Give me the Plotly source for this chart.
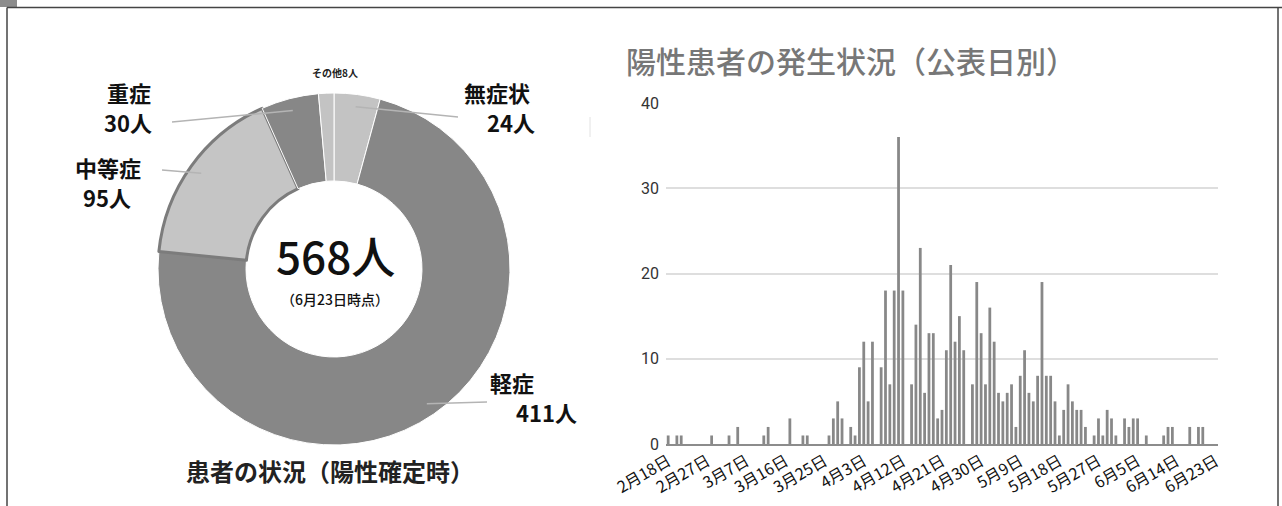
import math
import pandas as pd
import plotly.graph_objects as go

W, H = 1282, 506

# ---- donut: patient status at time of positive test ----
status_labels = ["無症状", "軽症", "中等症", "重症", "その他"]
status_counts = [24, 411, 95, 30, 8]
status_colors = ["#c3c3c3", "#878787", "#c5c5c5", "#878787", "#c3c3c3"]
total_label = "568人"
total_note = "（6月23日時点）"
donut_title = "患者の状況（陽性確定時）"

# ---- bars: new positive cases by announcement date ----
date_labels = [f"{d.month}月{d.day}日" for d in pd.date_range("2020-02-18", "2020-06-23")]
daily_cases = [
    1, 0, 1, 1, 0, 0, 0, 0, 0, 0,      # 2/18 - 2/27
    1, 0, 0, 0, 1, 0, 2, 0, 0, 0,      # 2/28 - 3/8
    0, 0, 1, 2, 0, 0, 0, 0, 3, 0,      # 3/9 - 3/18
    0, 1, 1, 0, 0, 0, 0, 1, 3, 5,      # 3/19 - 3/28
    3, 0, 2, 1, 9, 12, 5, 12, 0, 9,    # 3/29 - 4/7
    18, 7, 18, 36, 18, 0, 7, 14, 23, 6,  # 4/8 - 4/17
    13, 13, 3, 4, 11, 21, 12, 15, 11, 0,  # 4/18 - 4/27
    7, 19, 13, 7, 16, 12, 6, 5, 6, 7,  # 4/28 - 5/7
    2, 8, 11, 6, 5, 8, 19, 8, 8, 5,    # 5/8 - 5/17
    1, 4, 7, 5, 4, 4, 2, 0, 1, 3,      # 5/18 - 5/27
    1, 4, 3, 1, 0, 3, 2, 3, 3, 0,      # 5/28 - 6/6
    1, 0, 0, 0, 1, 2, 2, 0, 0, 0,      # 6/7 - 6/16
    2, 0, 2, 2, 0, 0, 0,               # 6/17 - 6/23
]
tick_labels = ["2月18日", "2月27日", "3月7日", "3月16日", "3月25日", "4月3日",
               "4月12日", "4月21日", "4月30日", "5月9日", "5月18日", "5月27日",
               "6月5日", "6月14日", "6月23日"]
y_ticks = [0, 10, 20, 30, 40]
bar_title = "陽性患者の発生状況（公表日別）"

JP = "Noto Sans CJK JP"


def px(x):
    return x / W


def py(y):
    return 1 - y / H


def text(t, x, y, size, color="#111", weight=None, xanchor="center"):
    f = dict(family=JP, size=size, color=color)
    if weight:
        f["weight"] = weight
    return dict(text=t, x=px(x), y=py(y), xref="paper", yref="paper",
                xanchor=xanchor, yanchor="middle", showarrow=False, font=f)


# donut geometry (pixels)
cx, cy, R = 334, 269, 176

fig = go.Figure()

fig.add_trace(go.Pie(
    labels=status_labels,
    values=status_counts,
    hole=0.5,
    sort=False,
    direction="clockwise",
    rotation=0,
    textinfo="none",
    hoverinfo="label+value",
    marker=dict(colors=status_colors,
                line=dict(color=["#ffffff", "#ffffff", "#7c7c7c", "#ffffff", "#ffffff"],
                          width=[1, 1, 3, 1, 1])),
    domain=dict(x=[px(cx - R), px(cx + R)], y=[py(cy + R), py(cy - R)]),
    showlegend=False,
))

fig.add_trace(go.Bar(
    x=date_labels,
    y=daily_cases,
    marker=dict(color="#888888", line=dict(width=0)),
    xaxis="x", yaxis="y",
    showlegend=False,
))

# label placement: leader line end, name position, count position
label_pos = {
    "無症状": ((458, 117), (497, 92), (511, 122)),
    "軽症": ((487, 402), (512, 382), (546, 412)),
    "中等症": ((162, 170), (108, 167), (107, 197)),
    "重症": ((172, 122), (129, 92), (128, 122)),
}
shapes = []
annotations = []
total = sum(status_counts)
start = 0.0
for lab, val in zip(status_labels, status_counts):
    mid = start + val / total * 180.0
    start += val / total * 360.0
    if lab not in label_pos:
        continue
    (ex, ey), (nx, ny), (vx, vy) = label_pos[lab]
    r = R * 0.93
    sx = cx + r * math.sin(math.radians(mid))
    sy = cy - r * math.cos(math.radians(mid))
    shapes.append(dict(type="line", xref="paper", yref="paper",
                       x0=px(sx), y0=py(sy), x1=px(ex), y1=py(ey),
                       line=dict(color="#b4b4b4", width=1.5)))
    annotations.append(text(f"<b>{lab}</b>", nx, ny, 22))
    annotations.append(text(f"<b>{val}人</b>", vx, vy, 22))

annotations += [
    text(f"<b>その他{status_counts[4]}人</b>", 335, 72, 10, "#222"),
    text(total_label, 335, 255, 44, "#111", 500),
    text(total_note, 335, 299, 14, "#111", 500),
    text(f"<b>{donut_title}</b>", 330, 470, 24, "#222"),
    text(bar_title, 624, 60, 30, "#777", 500, xanchor="left"),
]

# outer frame
shapes += [
    dict(type="rect", xref="paper", yref="paper", x0=0, x1=px(17), y0=py(7), y1=1,
         fillcolor="#8c8c8c", line=dict(width=0)),
    dict(type="line", xref="paper", yref="paper", x0=px(7), x1=1, y0=py(7.5), y1=py(7.5),
         line=dict(color="#444", width=1.5)),
    dict(type="line", xref="paper", yref="paper", x0=px(7), x1=px(7), y0=py(7.5), y1=0,
         line=dict(color="#444", width=1.5)),
    dict(type="line", xref="paper", yref="paper", x0=px(1278), x1=px(1278), y0=py(7.5), y1=0,
         line=dict(color="#444", width=1.5)),
    dict(type="line", xref="paper", yref="paper", x0=px(590), x1=px(590), y0=py(117), y1=py(137),
         line=dict(color="#e2e2e2", width=1)),
]

fig.update_layout(
    width=W, height=H,
    margin=dict(l=0, r=0, t=0, b=0, pad=0, autoexpand=False),
    paper_bgcolor="white",
    plot_bgcolor="white",
    bargap=0.36,
    shapes=shapes,
    annotations=annotations,
    xaxis=dict(domain=[px(666), px(1218)], type="category", automargin=False,
               range=[-0.5, len(date_labels) - 0.5],
               tickmode="array", tickvals=tick_labels, ticktext=tick_labels,
               tickangle=-30, tickfont=dict(family=JP, size=16, color="#111"),
               showline=True, linecolor="#8c8c8c", linewidth=2,
               showgrid=False, ticks="", fixedrange=True),
    yaxis=dict(domain=[py(444), py(103)], range=[0, 40], automargin=False,
               tickvals=y_ticks, tickfont=dict(family="Roboto", size=16, color="#333"),
               ticklabelstandoff=6,
               showgrid=True, gridcolor="#dedede", gridwidth=1.5,
               zeroline=False, showline=False, ticks="", fixedrange=True),
)

fig.write_html("out.html")
